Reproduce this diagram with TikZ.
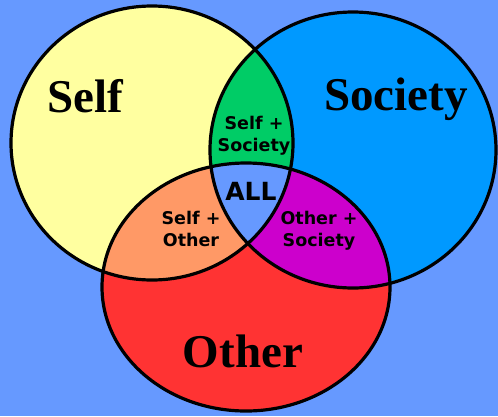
\documentclass[tikz,border=0pt]{standalone}
\usepackage{fontspec}
\setmainfont{Liberation Serif}
\newfontfamily\lblfont{DejaVu Sans}
\definecolor{bgc}{HTML}{6699FF}
\definecolor{selfc}{HTML}{FFFFA0}
\definecolor{socc}{HTML}{0099FF}
\definecolor{othc}{HTML}{FF3333}
\definecolor{grnc}{HTML}{00CC66}
\definecolor{orgc}{HTML}{FF9966}
\definecolor{purc}{HTML}{CC00CC}
\tikzset{
  outline/.style={draw=black, line width=3.2pt},
  bigtxt/.style={font=\fontsize{47}{50}\selectfont\bfseries, anchor=base, inner sep=0pt},
  smalltxt/.style={font=\lblfont\fontsize{17.5}{22}\selectfont\bfseries, align=center, anchor=base, inner sep=0pt},
  alltxt/.style={font=\lblfont\fontsize{25}{28}\selectfont\bfseries, anchor=base, inner sep=0pt}
}
\begin{document}
\begin{tikzpicture}[x=1pt,y=-1pt]
\useasboundingbox (0,0) rectangle (498,416);
\fill[bgc] (0,0) rectangle (498,416);
% base fills
\fill[selfc] (152,143) ellipse [x radius=141pt, y radius=137pt];
\fill[socc] (353,150) ellipse [x radius=143pt, y radius=138pt];
\fill[othc] (246,287) ellipse [x radius=144pt, y radius=124pt];
% pairwise overlaps
\begin{scope}
  \clip (152,143) ellipse [x radius=141pt, y radius=137pt];
  \fill[grnc] (353,150) ellipse [x radius=143pt, y radius=138pt];
  \fill[orgc] (246,287) ellipse [x radius=144pt, y radius=124pt];
\end{scope}
\begin{scope}
  \clip (353,150) ellipse [x radius=143pt, y radius=138pt];
  \fill[purc] (246,287) ellipse [x radius=144pt, y radius=124pt];
\end{scope}
\begin{scope}
  \clip (152,143) ellipse [x radius=141pt, y radius=137pt];
  \clip (353,150) ellipse [x radius=143pt, y radius=138pt];
  \fill[bgc] (246,287) ellipse [x radius=144pt, y radius=124pt];
\end{scope}
% outlines
\draw[outline] (152,143) ellipse [x radius=141pt, y radius=137pt];
\draw[outline] (353,150) ellipse [x radius=143pt, y radius=138pt];
\draw[outline] (246,287) ellipse [x radius=144pt, y radius=124pt];
% labels
\node[bigtxt] (self) at (85,112) {Self};
\node[bigtxt] (society) at (396,110) {Society};
\node[bigtxt] (other) at (243,367) {Other};
\node[smalltxt] (selfsoc) at (254,151) {Self +\\Society};
\node[smalltxt] (selfoth) at (191,246) {Self +\\Other};
\node[smalltxt] (othsoc) at (319,246) {Other +\\Society};
\node[alltxt] (all) at (251,200) {ALL};
\end{tikzpicture}
\end{document}
